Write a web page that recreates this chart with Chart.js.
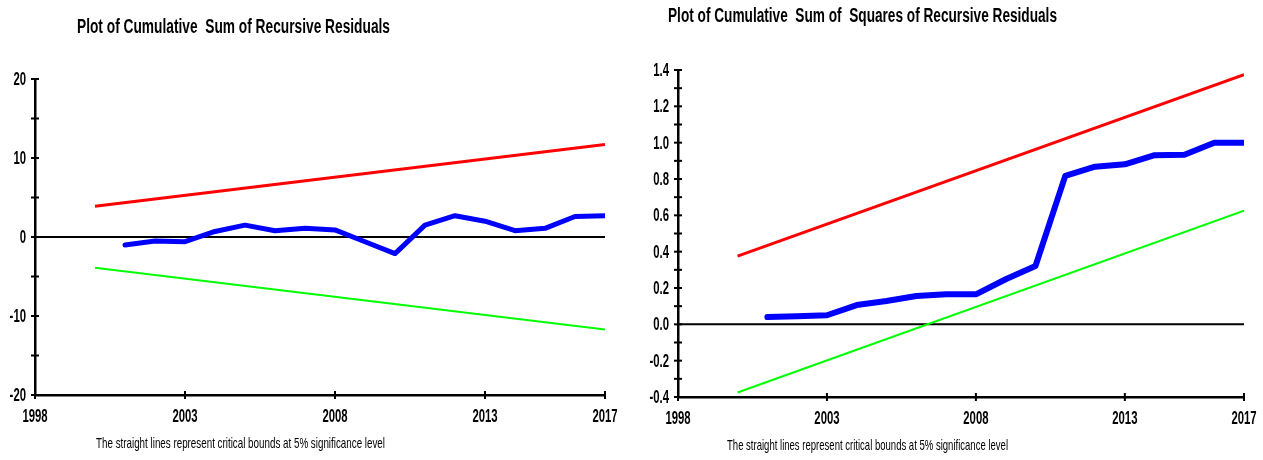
<!DOCTYPE html>
<html>
<head>
<meta charset="utf-8">
<script src="https://cdn.jsdelivr.net/npm/chart.js@4.4.0/dist/chart.umd.min.js"></script>
<style>
  body { margin: 0; background: #fff; overflow: hidden; }
  .box { position: absolute; top: 0; height: 460px; }
</style>
</head>
<body>
<div class="box" style="left:0;width:630px"><canvas id="cusum"></canvas></div>
<div class="box" style="left:630px;width:633px"><canvas id="cusumsq"></canvas></div>
<script>
// data
var years = [2001, 2002, 2003, 2004, 2005, 2006, 2007, 2008, 2009, 2010, 2011, 2012, 2013, 2014, 2015, 2016, 2017];
var cusum = [-1.0, -0.5, -0.6, 0.7, 1.5, 0.8, 1.1, 0.9, -0.6, -2.1, 1.5, 2.7, 2.0, 0.8, 1.1, 2.6, 2.7];
var cusumSq = [0.04, 0.045, 0.05, 0.106, 0.128, 0.156, 0.165, 0.165, 0.248, 0.321, 0.817, 0.868, 0.881, 0.931, 0.933, 1.0, 1.0];

var boundYears = [2000, 2017];
var cusumUpper = [3.9, 11.7];
var cusumLower = [-3.9, -11.7];
var sqUpper = [0.375, 1.375];
var sqLower = [-0.375, 0.625];

var xTicks = [1998, 2003, 2008, 2013, 2017];
var cusumYTicks = [-20, -15, -10, -5, 0, 5, 10, 15, 20];
var cusumYLabels = ["-20", "", "-10", "", "0", "", "10", "", "20"];
var sqYTicks = [-0.4, -0.3, -0.2, -0.1, 0, 0.1, 0.2, 0.3, 0.4, 0.5, 0.6, 0.7, 0.8, 0.9, 1.0, 1.1, 1.2, 1.3, 1.4];
var sqYLabels = ["-0.4", "", "-0.2", "", "0.0", "", "0.2", "", "0.4", "", "0.6", "", "0.8", "", "1.0", "", "1.2", "", "1.4"];

var NOTE = "The straight lines represent critical bounds at 5% significance level";
var FONT = '"Liberation Sans", Arial, sans-serif';

function pts(xs, ys) {
  return xs.map(function (x, i) { return { x: x, y: ys[i] }; });
}

// squeezed text, the original uses a narrow face
function narrowText(ctx, text, x, y, align, sx) {
  ctx.save();
  ctx.translate(x, y);
  ctx.scale(sx, 1);
  ctx.textAlign = align;
  ctx.fillText(text, 0, 0);
  ctx.restore();
}

// titles and footnote, drawn on the canvas
var captions = {
  id: "captions",
  afterDraw: function (chart, args, opts) {
    var ctx = chart.ctx;
    ctx.save();
    ctx.fillStyle = "#000";
    ctx.textBaseline = "middle";
    ctx.textAlign = "left";
    opts.items.forEach(function (t) {
      ctx.font = t.font;
      ctx.fillText(t.text, t.x, t.y, t.w);
    });
    ctx.restore();
  }
};

// tick marks that cross the axis lines, plus the tick labels
var axisMarks = {
  id: "axisMarks",
  afterDraw: function (chart, args, opts) {
    var ctx = chart.ctx, xs = chart.scales.x, ys = chart.scales.y, a = chart.chartArea;
    ctx.save();
    ctx.strokeStyle = "#000";
    ctx.fillStyle = "#000";
    ctx.lineWidth = 2;
    ctx.font = "bold 18px " + FONT;
    ctx.textBaseline = "middle";
    ys.ticks.forEach(function (t, i) {
      var py = ys.getPixelForValue(t.value);
      ctx.beginPath(); ctx.moveTo(a.left - 4, py); ctx.lineTo(a.left + 4, py); ctx.stroke();
      if (opts.yLabels[i]) narrowText(ctx, opts.yLabels[i], a.left - 9, py + 1, "right", 0.63);
    });
    xs.ticks.forEach(function (t) {
      var px = xs.getPixelForValue(t.value);
      ctx.beginPath(); ctx.moveTo(px, a.bottom - 4); ctx.lineTo(px, a.bottom + 4); ctx.stroke();
      narrowText(ctx, String(t.value), px, a.bottom + 22, "center", 0.63);
    });
    ctx.restore();
  }
};

function makeChart(id, cfg) {
  return new Chart(document.getElementById(id), {
    type: "scatter",
    data: {
      datasets: [
        { data: pts(years, cfg.series), borderColor: "#0000ff", borderWidth: cfg.blueWidth, showLine: true, pointRadius: 0, borderJoinStyle: "round", borderCapStyle: "round" },
        { data: pts(boundYears, cfg.upper), borderColor: "#ff0000", borderWidth: 3, showLine: true, pointRadius: 0 },
        { data: pts(boundYears, cfg.lower), borderColor: "#00ff00", borderWidth: 2, showLine: true, pointRadius: 0 },
        { data: pts([1998, 2017], [0, 0]), borderColor: "#000", borderWidth: 2, showLine: true, pointRadius: 0 }
      ]
    },
    options: {
      responsive: true,
      maintainAspectRatio: false,
      animation: false,
      layout: { padding: cfg.padding },
      plugins: {
        legend: { display: false },
        tooltip: { enabled: false },
        captions: { items: cfg.captions },
        axisMarks: { yLabels: cfg.yLabels }
      },
      scales: {
        x: {
          type: "linear",
          min: 1998,
          max: 2017,
          afterBuildTicks: function (s) { s.ticks = xTicks.map(function (v) { return { value: v }; }); },
          afterFit: function (s) { s.height = 40; },
          ticks: { display: false },
          grid: { display: true, drawOnChartArea: false, drawTicks: false },
          border: { color: "#000", width: 2.5 }
        },
        y: {
          min: cfg.yTicks[0],
          max: cfg.yTicks[cfg.yTicks.length - 1],
          afterBuildTicks: function (s) { s.ticks = cfg.yTicks.map(function (v) { return { value: v }; }); },
          afterFit: function (s) { s.width = cfg.yWidth; },
          ticks: { display: false },
          grid: { display: true, drawOnChartArea: false, drawTicks: false },
          border: { color: "#000", width: 2.5 }
        }
      }
    },
    plugins: [captions, axisMarks]
  });
}

makeChart("cusum", {
  series: cusum, upper: cusumUpper, lower: cusumLower, blueWidth: 5,
  yTicks: cusumYTicks, yLabels: cusumYLabels, yWidth: 35,
  padding: { top: 79, right: 25, bottom: 25, left: 0 },
  captions: [
    { text: "Plot of Cumulative  Sum of Recursive Residuals", x: 77, y: 27, w: 313, font: "bold 20px " + FONT },
    { text: NOTE, x: 96, y: 444, w: 289, font: "15px " + FONT }
  ]
});

makeChart("cusumsq", {
  series: cusumSq, upper: sqUpper, lower: sqLower, blueWidth: 6,
  yTicks: sqYTicks, yLabels: sqYLabels, yWidth: 48,
  padding: { top: 70, right: 19, bottom: 23, left: 0 },
  captions: [
    { text: "Plot of Cumulative  Sum of  Squares of Recursive Residuals", x: 38, y: 16, w: 389, font: "bold 20px " + FONT },
    { text: NOTE, x: 97, y: 446, w: 281, font: "15px " + FONT }
  ]
});
</script>
</body>
</html>
